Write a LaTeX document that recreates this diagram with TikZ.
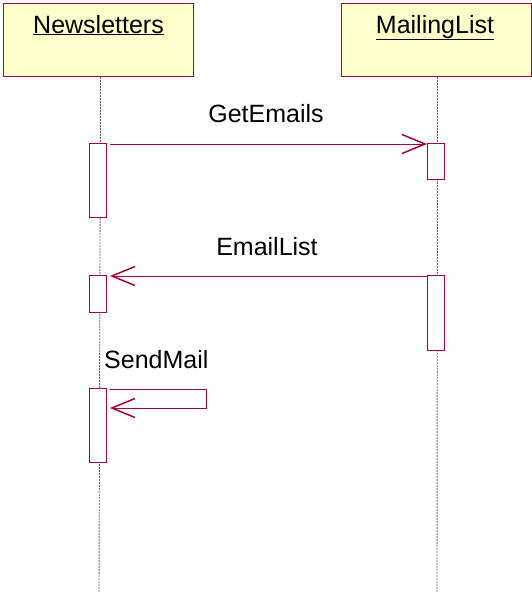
\documentclass[tikz,border=0pt]{standalone}
\usepackage{fontspec}
\setmainfont{Liberation Sans}
\usetikzlibrary{arrows.meta,calc}
\definecolor{umlred}{RGB}{168,0,58}
\definecolor{umlfill}{RGB}{255,255,204}
\tikzset{
  header/.style={draw=umlred, fill=umlfill, line width=1pt, minimum width=190pt, minimum height=73pt, inner sep=0pt, anchor=north west},
  actbox/.style={draw=umlred, fill=white, line width=1pt, minimum width=17pt, inner sep=0pt, anchor=north west},
  lifeline/.style={draw=black!60, line width=0.9pt, dash pattern=on 2pt off 1pt},
  msg/.style={draw=umlred, line width=1pt, -{Straight Barb[length=23pt,width=19pt,line width=1.5pt]}},
  lbl/.style={font=\fontsize{25}{28}\selectfont, inner sep=0pt, anchor=base}
}
\begin{document}
\begin{tikzpicture}[x=1pt,y=-1pt]
\useasboundingbox (0,0) rectangle (531,592);
% headers
\node[header] (hn) at (3,3) {};
\node[header] (hm) at (341,3) {};
\node[lbl] (tn) at (98.5,33) {\underline{Newsletters}};
\node[lbl] (tm) at (435,33) {\underline{MailingList}};
% lifelines
\coordinate (ln) at (99,592);
\coordinate (lm) at (437,592);
\draw[lifeline] (hn.south) ++(2,0) -- (ln);
\draw[lifeline] (hm.south) ++(1,0) -- (lm);
% activation boxes
\node[actbox, minimum height=74pt] (n1) at (89,143) {};
\node[actbox, minimum height=37pt] (n2) at (89,275) {};
\node[actbox, minimum height=74pt] (n3) at (89,388) {};
\node[actbox, minimum height=36pt] (m1) at (427,143) {};
\node[actbox, minimum height=75pt] (m2) at (427,275) {};
% messages
\draw[msg] ($(n1.north east)+(3,1)$) -- ($(m1.north west)+(0,1)$);
\draw[msg] ($(m2.north west)+(0,1)$) -- ($(n2.north east)+(3,1)$);
\coordinate (s1) at (206,389);
\coordinate (s2) at (206,408);
\draw[msg] ($(n3.north east)+(3,1)$) -- (s1) -- (s2) -- ($(n3.north east)+(3,20)$);
% labels
\node[lbl] (lg) at (266,122) {GetEmails};
\node[lbl] (le) at (267,255) {EmailList};
\node[lbl, anchor=base west] (ls) at (104,368) {SendMail};
\end{tikzpicture}
\end{document}
